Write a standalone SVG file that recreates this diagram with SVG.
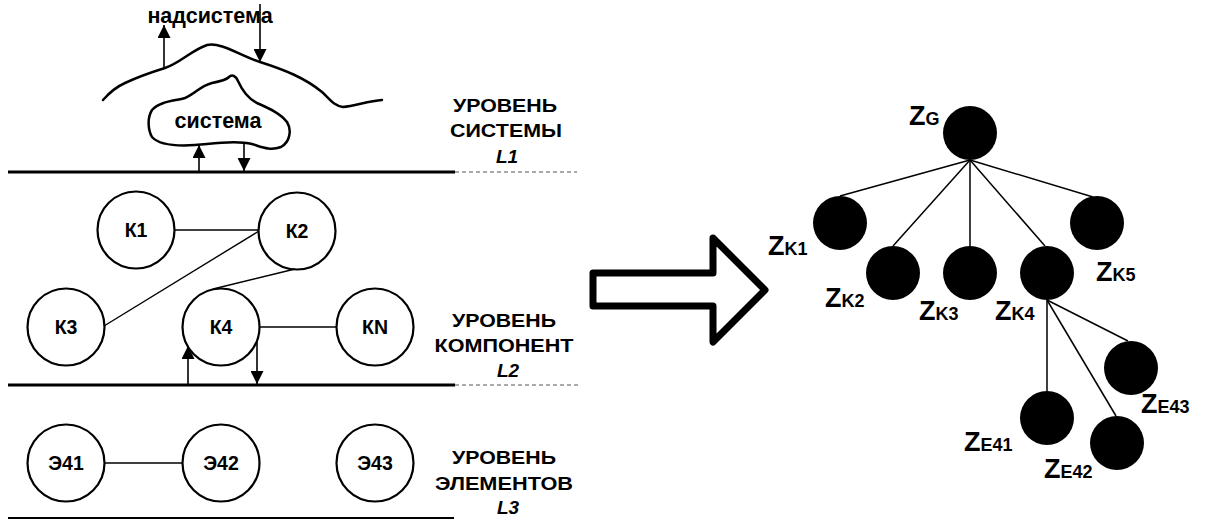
<svg xmlns="http://www.w3.org/2000/svg" width="1206" height="521" viewBox="0 0 1206 521">
  <style>
    text { font-family: "Liberation Sans", Arial, sans-serif; font-weight: bold; fill: #000; }
    .lvl { font-size: 18.5px; text-anchor: middle; }
    .lvlL { font-size: 19px; font-style: italic; text-anchor: middle; }
    .nl { font-size: 19.5px; text-anchor: middle; }
    .low { font-size: 21.5px; text-anchor: middle; }
    .z { font-size: 27px; }
    .zs { font-size: 18px; }
    .ring { fill: #fff; stroke: #000; stroke-width: 2.2; }
    .dot { fill: #000; }
    .edge { stroke: #000; stroke-width: 1.4; fill: none; }
    .tedge { stroke: #000; stroke-width: 1.5; fill: none; }
    .flow { stroke: #000; stroke-width: 1.6; fill: none; marker-end: url(#head); }
    .blob { fill: #fff; stroke: #000; stroke-width: 2.5; stroke-linejoin: round; stroke-linecap: round; }
    .level { stroke: #000; stroke-width: 3; }
    .dash { stroke: #555; stroke-width: 1; stroke-dasharray: 4 3; }
  </style>
  <defs>
    <marker id="head" markerUnits="userSpaceOnUse" markerWidth="14" markerHeight="13" refX="13" refY="6.5" orient="auto">
      <path d="M0,0 L13,6.5 L0,13 z" fill="#000"/>
    </marker>
  </defs>

  <rect width="1206" height="521" fill="#fff"/>

  <!-- level boundaries -->
  <g id="levels">
    <line class="level" x1="8" y1="172" x2="455" y2="172"/>
    <line class="dash" x1="455" y1="172" x2="577" y2="172"/>
    <line class="level" x1="8" y1="385" x2="455" y2="385"/>
    <line class="dash" x1="455" y1="385" x2="579" y2="385"/>
    <line class="level" style="stroke-width:1.8" x1="8" y1="518" x2="454" y2="518"/>
  </g>

  <!-- level captions -->
  <g id="caption-L1">
    <text class="lvl" x="505" y="112" textLength="104" lengthAdjust="spacingAndGlyphs">УРОВЕНЬ</text>
    <text class="lvl" x="506" y="137" textLength="112" lengthAdjust="spacingAndGlyphs">СИСТЕМЫ</text>
    <text class="lvlL" x="507" y="163">L1</text>
  </g>
  <g id="caption-L2">
    <text class="lvl" x="504" y="327" textLength="104" lengthAdjust="spacingAndGlyphs">УРОВЕНЬ</text>
    <text class="lvl" x="504" y="352" textLength="139" lengthAdjust="spacingAndGlyphs">КОМПОНЕНТ</text>
    <text class="lvlL" x="508" y="377">L2</text>
  </g>
  <g id="caption-L3">
    <text class="lvl" x="504" y="464" textLength="104" lengthAdjust="spacingAndGlyphs">УРОВЕНЬ</text>
    <text class="lvl" x="504" y="490" textLength="138" lengthAdjust="spacingAndGlyphs">ЭЛЕМЕНТОВ</text>
    <text class="lvlL" x="508" y="514">L3</text>
  </g>

  <!-- supersystem and system -->
  <g id="supersystem">
    <path class="blob" style="fill:none" d="M103,100 C110,92 116,87 125,83 C140,76 152,72 165,68 C180,63 192,50 207,45 C222,42 240,56 260,62 C285,70 305,78 322,92 C330,99 334,106 343,107 C355,106 368,101 382,100"/>
    <text class="low" x="210" y="23">надсистема</text>
  </g>
  <g id="system">
    <path class="blob" d="M152,110 C147,118 148,130 152,137 C160,146 180,147 207,144 C225,142 240,141 252,144 C262,147 270,151 281,147 C290,142 292,130 287,122 C280,113 268,108 257,103 C247,98 242,90 238,81 C236,76 232,74 229,77 C226,80 222,81 212,83 C200,86 195,94 185,98 C175,101 160,101 152,110 z"/>
    <text class="low" x="218" y="128">система</text>
  </g>

  <!-- component nodes -->
  <g id="K1"><circle class="ring" cx="136" cy="230" r="38.5"/><text class="nl" x="136" y="237">К1</text></g>
  <g id="K2"><circle class="ring" cx="297" cy="231" r="38.5"/><text class="nl" x="297" y="238">К2</text></g>
  <g id="K3"><circle class="ring" cx="66" cy="327" r="38.5"/><text class="nl" x="66" y="334">К3</text></g>
  <g id="K4"><circle class="ring" cx="221" cy="327" r="38.5"/><text class="nl" x="221" y="334">К4</text></g>
  <g id="KN"><circle class="ring" cx="375" cy="327" r="38.5"/><text class="nl" x="375" y="334">КN</text></g>

  <!-- element nodes -->
  <g id="E41"><circle class="ring" cx="66" cy="463" r="38.5"/><text class="nl" x="66" y="470">Э41</text></g>
  <g id="E42"><circle class="ring" cx="221" cy="463" r="38.5"/><text class="nl" x="221" y="470">Э42</text></g>
  <g id="E43"><circle class="ring" cx="375" cy="463" r="38.5"/><text class="nl" x="375" y="470">Э43</text></g>

  <!-- transition arrow -->
  <g id="transition">
    <path d="M593,273 L713,273 L713,238 L765,290 L713,342 L713,306 L593,306 z" fill="#fff" stroke="#000" stroke-width="7" stroke-linejoin="round"/>
  </g>

  <!-- tree nodes -->
  <g id="ZG"><circle class="dot" cx="970" cy="133" r="27"/><text x="909" y="125"><tspan class="z">Z</tspan><tspan class="zs">G</tspan></text></g>
  <g id="ZK1"><circle class="dot" cx="840" cy="223" r="27"/><text x="768" y="255"><tspan class="z">Z</tspan><tspan class="zs">K1</tspan></text></g>
  <g id="ZK2"><circle class="dot" cx="893" cy="273" r="27"/><text x="825" y="307"><tspan class="z">Z</tspan><tspan class="zs">K2</tspan></text></g>
  <g id="ZK3"><circle class="dot" cx="970" cy="273" r="27"/><text x="919" y="320"><tspan class="z">Z</tspan><tspan class="zs">K3</tspan></text></g>
  <g id="ZK4"><circle class="dot" cx="1047" cy="273" r="27"/><text x="995" y="320"><tspan class="z">Z</tspan><tspan class="zs">K4</tspan></text></g>
  <g id="ZK5"><circle class="dot" cx="1097" cy="223" r="27"/><text x="1096" y="281"><tspan class="z">Z</tspan><tspan class="zs">K5</tspan></text></g>
  <g id="ZE41"><circle class="dot" cx="1047" cy="418" r="27"/><text x="964" y="451"><tspan class="z">Z</tspan><tspan class="zs">E41</tspan></text></g>
  <g id="ZE42"><circle class="dot" cx="1117" cy="443" r="27"/><text x="1044" y="478"><tspan class="z">Z</tspan><tspan class="zs">E42</tspan></text></g>
  <g id="ZE43"><circle class="dot" cx="1131" cy="368" r="27"/><text x="1141" y="413"><tspan class="z">Z</tspan><tspan class="zs">E43</tspan></text></g>

  <!-- connectors -->
  <g id="connectors">
    <!-- component links -->
    <line class="edge" x1="175" y1="230" x2="259" y2="230"/>
    <line class="edge" x1="104" y1="326" x2="259" y2="231"/>
    <line class="edge" x1="295" y1="269" x2="213" y2="289"/>
    <line class="edge" x1="260" y1="327" x2="337" y2="327"/>
    <line class="edge" x1="105" y1="463" x2="183" y2="463"/>
    <!-- exchanges with neighbouring levels -->
    <line class="flow" x1="164" y1="68" x2="164" y2="25"/>
    <line class="flow" x1="260" y1="4" x2="260" y2="62"/>
    <line class="flow" x1="199" y1="172" x2="199" y2="145"/>
    <line class="flow" x1="244" y1="142" x2="244" y2="171"/>
    <line class="flow" x1="188" y1="384" x2="188" y2="346"/>
    <line class="flow" x1="257" y1="342" x2="257" y2="384"/>
    <!-- tree edges -->
    <line class="tedge" x1="970" y1="160" x2="840" y2="196"/>
    <line class="tedge" x1="970" y1="160" x2="893" y2="246"/>
    <line class="tedge" x1="970" y1="160" x2="970" y2="246"/>
    <line class="tedge" x1="970" y1="160" x2="1045" y2="246"/>
    <line class="tedge" x1="970" y1="160" x2="1093" y2="197"/>
    <line class="tedge" x1="1047" y1="300" x2="1047" y2="391"/>
    <line class="tedge" x1="1047" y1="300" x2="1116" y2="416"/>
    <line class="tedge" x1="1047" y1="300" x2="1128" y2="341"/>
  </g>
</svg>
